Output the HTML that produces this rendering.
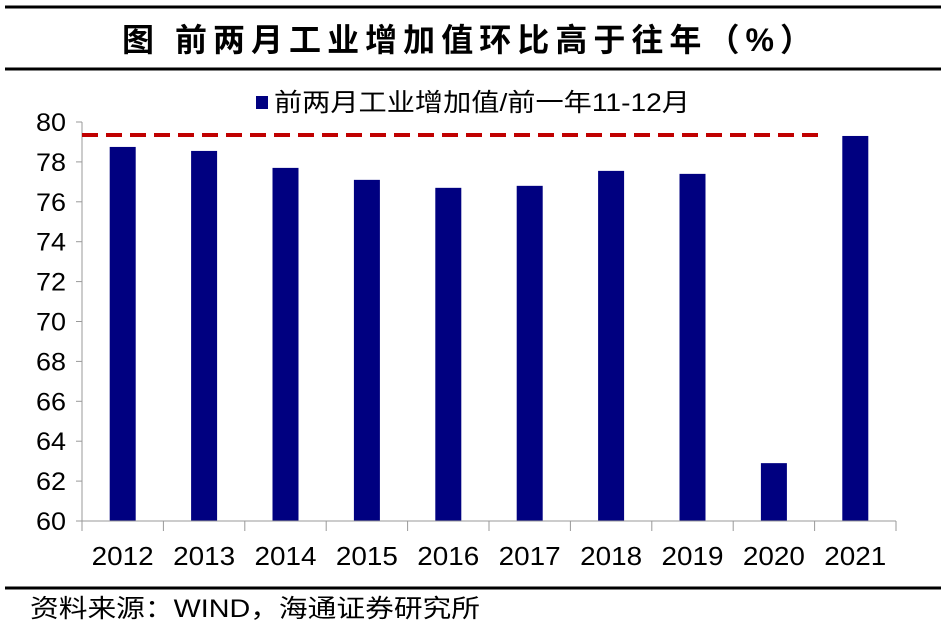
<!DOCTYPE html>
<html><head><meta charset="utf-8"><style>
body{margin:0;background:#fff;}
svg text{font-family:"Liberation Sans","Noto Sans CJK SC",sans-serif;}
</style></head><body>
<svg width="941" height="626" viewBox="0 0 941 626">
<line x1="5" y1="7" x2="941" y2="7" stroke="#000" stroke-width="3"/>
<text x="122" y="51" font-size="32" font-weight="bold" textLength="690" lengthAdjust="spacing" font-family="'Noto Serif CJK SC',serif">图  前两月工业增加值环比高于往年（%）</text>
<line x1="5" y1="69" x2="941" y2="69" stroke="#000" stroke-width="3"/>
<rect x="256" y="96" width="12" height="13" fill="#000080"/>
<text x="274" y="111" font-size="25" textLength="416" lengthAdjust="spacingAndGlyphs">前两月工业增加值/前一年11-12月</text>
<g id="plot"></g>
<line x1="5" y1="588" x2="941" y2="588" stroke="#000" stroke-width="3"/>
<text x="30" y="617" font-size="25" textLength="450" lengthAdjust="spacingAndGlyphs">资料来源：WIND，海通证券研究所</text>
</svg>
<script>
const categories=["2012","2013","2014","2015","2016","2017","2018","2019","2020","2021"];
const values=[78.75,78.55,77.7,77.1,76.7,76.8,77.55,77.4,62.9,79.3];
const refValue=79.35;
const yTicks=[60,62,64,66,68,70,72,74,76,78,80];
const NS="http://www.w3.org/2000/svg";
const g=document.getElementById("plot");
const x0=82,x1=896,yTop=122,yBot=521,vMin=60,vMax=80;
const bw=(x1-x0)/categories.length;
const y=v=>yBot-(v-vMin)/(vMax-vMin)*(yBot-yTop);
const xc=i=>x0+bw*(i+0.5);
function mk(t,a){const e=document.createElementNS(NS,t);for(const k in a)e.setAttribute(k,a[k]);g.appendChild(e);return e;}
let e=mk("line",{x1:x0,y1:yTop,x2:x0,y2:yBot,stroke:"#999"});


yTicks.forEach(t=>{
 let l=mk("line",{x1:x0-6,y1:y(t),x2:x0,y2:y(t),stroke:"#999"});
 
 
 let tx=mk("text",{x:x0-16,y:y(t)+9,"text-anchor":"end","font-size":"25",textLength:"30",lengthAdjust:"spacingAndGlyphs"});
 tx.textContent=t;
 
 
});
categories.forEach((c,i)=>{
 let b=mk("rect",{x:xc(i)-13,y:y(values[i]),width:26,height:yBot-y(values[i]),fill:"#000080"});
 
 
 let tx=mk("text",{x:xc(i)-31,y:565,"font-size":"26",textLength:"62",lengthAdjust:"spacingAndGlyphs"});
 tx.textContent=c;
 
 
});
for(let i=0;i<=categories.length;i++){
 let l=mk("line",{x1:x0+bw*i,y1:yBot,x2:x0+bw*i,y2:yBot+10,stroke:"#999"});
 
 
}
e=mk("line",{x1:x0-6,y1:yBot,x2:x1,y2:yBot,stroke:"#999"});


e=mk("line",{x1:x0,y1:y(refValue),x2:826,y2:y(refValue),stroke:"#c00000","stroke-width":"4","stroke-dasharray":"16 8"});


</script>
</body></html>
